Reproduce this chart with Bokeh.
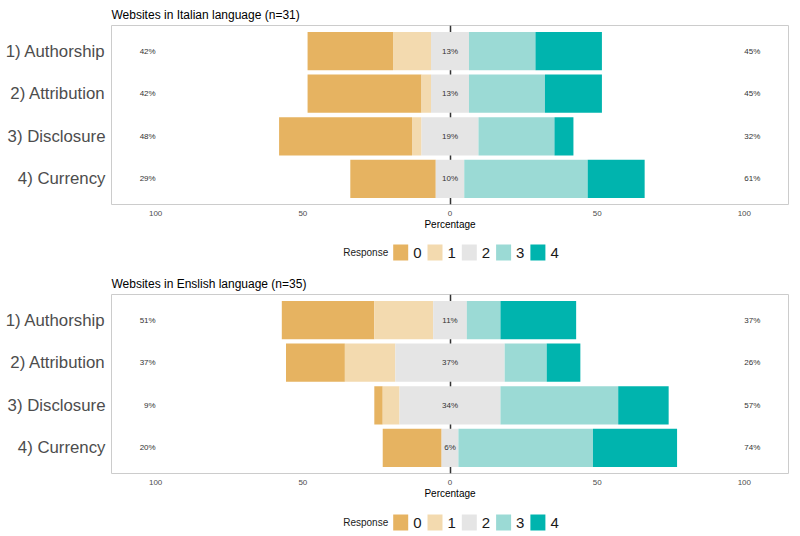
from bokeh.plotting import figure
from bokeh.models import FactorRange, Range1d, FixedTicker, ColumnDataSource
from bokeh.layouts import column
from bokeh.embed import file_html
from bokeh.resources import INLINE
from bokeh.core.properties import value

# ---------------- data ----------------
categories = ["1) Authorship", "2) Attribution", "3) Disclosure", "4) Currency"]
responses = ["0", "1", "2", "3", "4"]
colors = ["#E6B361", "#F3DAAF", "#E5E5E5", "#9BDAD5", "#00B4AE"]
legend_title = "Response"

italian_title = "Websites in Italian language (n=31)"
italian_n = 31
italian_r0 = [9, 12, 14, 9]
italian_r1 = [4, 1, 1, 0]
italian_r2 = [4, 4, 6, 3]
italian_r3 = [7, 8, 8, 13]
italian_r4 = [7, 6, 2, 6]

english_title = "Websites in Enslish language (n=35)"
english_n = 35
english_r0 = [11, 7, 1, 7]
english_r1 = [7, 6, 2, 0]
english_r2 = [4, 13, 12, 2]
english_r3 = [4, 5, 14, 16]
english_r4 = [9, 4, 6, 10]

x_ticks = [-100, -50, 0, 50, 100]
x_tick_labels = ["100", "50", "0", "50", "100"]

FONT = "Liberation Sans"
LEFT = 111
FRAME_W = 677
RIGHT = 4


def pct_label(v):
    return "%d%%" % int(v + 0.5)


def panel(title, n, series, top, bottom):
    p = figure(
        title=title,
        y_range=FactorRange(factors=categories[::-1], range_padding=0.1,
                            range_padding_units="absolute"),
        x_range=Range1d(-115, 115),
        frame_width=FRAME_W, frame_height=179,
        min_border_left=LEFT, min_border_right=RIGHT,
        min_border_top=top, min_border_bottom=bottom,
        output_backend="svg", toolbar_location=None,
    )
    pct = [[100.0 * c / n for c in s] for s in series]
    starts = [-(pct[0][i] + pct[1][i] + pct[2][i] / 2.0) for i in range(len(categories))]

    p.vspan(x=[0], line_color="#333333", line_width=1.5)

    left = list(starts)
    for k in range(len(responses)):
        right = [left[i] + pct[k][i] for i in range(len(categories))]
        src = ColumnDataSource(dict(y=categories, left=left, right=right))
        p.hbar(y="y", left="left", right="right", height=0.9,
               fill_color=colors[k], line_color=None, source=src)
        left = right

    low = [pct_label(pct[0][i] + pct[1][i]) for i in range(len(categories))]
    mid = [pct_label(pct[2][i]) for i in range(len(categories))]
    high = [pct_label(pct[3][i] + pct[4][i]) for i in range(len(categories))]
    common = dict(text_baseline="middle", text_font=value(FONT),
                  text_font_size="8px", text_color="#333333")
    p.text(x=-100, y=categories, text=low, text_align="right", **common)
    p.text(x=0, y=categories, text=mid, text_align="center", **common)
    p.text(x=100, y=categories, text=high, text_align="left", **common)

    p.title.text_font = FONT
    p.title.text_font_size = "12px"
    p.title.text_font_style = "normal"
    p.title.text_color = "#000000"
    p.title.align = "left"
    p.title.standoff = 7

    xa = p.xaxis[0]
    xa.ticker = FixedTicker(ticks=x_ticks)
    xa.major_label_overrides = dict(zip(x_ticks, x_tick_labels))
    xa.axis_label = "Percentage"
    xa.axis_label_text_font = FONT
    xa.axis_label_text_font_size = "10px"
    xa.axis_label_text_font_style = "normal"
    xa.axis_label_text_color = "#000000"
    xa.axis_label_standoff = 0
    xa.major_label_standoff = 6
    xa.major_label_text_font = FONT
    xa.major_label_text_font_size = "8px"
    xa.major_label_text_color = "#4d4d4d"
    xa.major_tick_out = 0
    xa.major_tick_in = 0
    xa.minor_tick_out = 0
    xa.minor_tick_in = 0
    xa.axis_line_color = None

    ya = p.yaxis[0]
    ya.major_label_text_font = FONT
    ya.major_label_text_font_size = "16.8px"
    ya.major_label_text_color = "#4d4d4d"
    ya.major_label_standoff = 6
    ya.major_tick_out = 0
    ya.major_tick_in = 0
    ya.axis_line_color = None

    p.xgrid.grid_line_color = None
    p.ygrid.grid_line_color = None
    p.outline_line_color = "#cccccc"
    p.outline_line_width = 1
    p.background_fill_color = "white"
    p.border_fill_color = "white"
    return p


def legend_strip(h, yc):
    # same borders as the panels so the frames line up; 1 data unit = 1 pixel of the page
    lg = figure(x_range=Range1d(LEFT, LEFT + FRAME_W), y_range=Range1d(0, h),
                frame_width=FRAME_W, frame_height=h,
                min_border_left=LEFT, min_border_right=RIGHT, min_border_top=0, min_border_bottom=0,
                x_axis_type=None, y_axis_type=None,
                output_backend="svg", toolbar_location=None)
    lg.outline_line_color = None
    lg.xgrid.grid_line_color = None
    lg.ygrid.grid_line_color = None
    lg.background_fill_color = "white"
    lg.border_fill_color = "white"
    x0 = 392.7      # left edge of first key
    pitch = 34.3    # key-to-key spacing
    key_w = 15
    key_x = [x0 + key_w / 2.0 + i * pitch for i in range(len(responses))]
    lab_x = [x0 + key_w + 5 + i * pitch for i in range(len(responses))]
    lg.rect(x=key_x, y=yc, width=key_w, height=16, fill_color=colors, line_color=None)
    lg.text(x=lab_x, y=yc, text=responses, text_align="left", text_baseline="middle",
            text_font=value(FONT), text_font_size="15px", text_color="#1a1a1a")
    lg.text(x=[x0 - 5], y=yc, text=[legend_title], text_align="right", text_baseline="middle",
            text_font=value(FONT), text_font_size="10px", text_color="#1a1a1a")
    return lg


p1 = panel(italian_title, italian_n,
           [italian_r0, italian_r1, italian_r2, italian_r3, italian_r4], 25, 30)
l1 = legend_strip(37, 19)
p2 = panel(english_title, english_n,
           [english_r0, english_r1, english_r2, english_r3, english_r4], 22, 30)
l2 = legend_strip(33, 14)

layout = column(p1, l1, p2, l2, spacing=0)
open("out.html", "w").write(file_html(layout, INLINE))
